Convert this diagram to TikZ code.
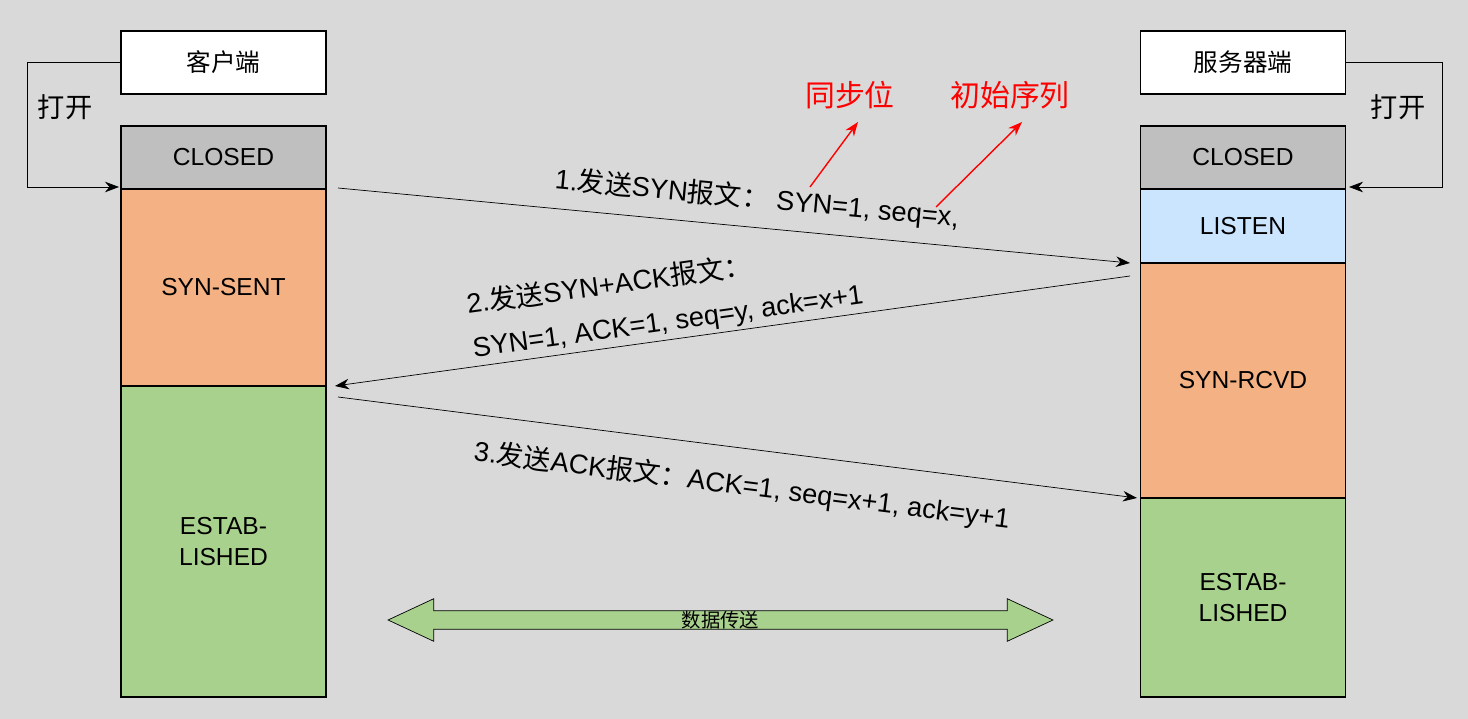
\documentclass[tikz,border=0pt]{standalone}
\usepackage{fontspec}
\setmainfont{Liberation Sans}
\newfontfamily\cjk{Noto Sans CJK SC}
\usetikzlibrary{shapes.arrows,arrows.meta}
\definecolor{bggray}{HTML}{D9D9D9}
\definecolor{closedgray}{HTML}{BFBFBF}
\definecolor{synorange}{HTML}{F4B183}
\definecolor{estgreen}{HTML}{A9D18E}
\definecolor{listenblue}{HTML}{CCE5FF}
\tikzset{state/.style={draw, thick, minimum width=4.1cm, align=center, font=\fontsize{14}{18}\selectfont},
  msg/.style={-{Stealth[length=8pt]}, thin},
  lbl/.style={font=\fontsize{15.5}{19}\selectfont, align=left}}
\begin{document}
\begin{tikzpicture}[x=0.02cm,y=-0.02cm]
    \fill[bggray] (0,0) rectangle (1468,719);
    \useasboundingbox (0,0) rectangle (1468,719);
    % client side
    \node[state, fill=white, minimum height=1.26cm] (cl) at (223.5,62.5) {\cjk 客户端};
    \node[state, fill=closedgray, minimum height=1.26cm] (cclosed) at (223.5,157.5) {CLOSED};
    \node[state, fill=synorange, minimum height=3.94cm] (csent) at (223.5,287.5) {SYN-SENT};
    \node[state, fill=estgreen, minimum height=6.22cm] (cest) at (223.5,541.5) {ESTAB-\\LISHED};
    % server side
    \node[state, fill=white, minimum height=1.26cm] (sv) at (1243,62.5) {\cjk 服务器端};
    \node[state, fill=closedgray, minimum height=1.26cm] (sclosed) at (1243,157.5) {CLOSED};
    \node[state, fill=listenblue, minimum height=1.48cm] (slisten) at (1243,226) {LISTEN};
    \node[state, fill=synorange, minimum height=4.7cm] (srcvd) at (1243,380.5) {SYN-RCVD};
    \node[state, fill=estgreen, minimum height=3.98cm] (sest) at (1243,597.5) {ESTAB-\\LISHED};
    % open
    \draw[msg] (cl.west) -- (27,62.5) -- (27,187) -- (119,187);
    \draw[msg] (sv.east) -- (1442,62.5) -- (1442,187) -- (1349,187);
    \node[lbl] (copen) at (65,107) {\cjk 打开};
    \node[lbl] (sopen) at (1398,107) {\cjk 打开};
    % handshake
    \coordinate (a1) at (338,188); \coordinate (b1) at (1130,263);
    \coordinate (a2) at (1130,276); \coordinate (b2) at (335,386);
    \coordinate (a3) at (338,397); \coordinate (b3) at (1137,498);
    \draw[msg] (a1) -- (b1);
    \draw[msg] (a2) -- (b2);
    \draw[msg] (a3) -- (b3);
    \node[lbl, rotate=-5.4] (m1) at (757,199) {1.{\cjk 发送}SYN{\cjk 报文：} SYN=1, seq=x,};
    \node[lbl, rotate=7.9, font=\fontsize{15.5}{25}\selectfont] (m2) at (665,300) {2.{\cjk 发送}SYN+ACK{\cjk 报文：}\\SYN=1, ACK=1, seq=y, ack=x+1};
    \node[lbl, rotate=-7.2] (m3) at (742,486) {3.{\cjk 发送}ACK{\cjk 报文：}ACK=1, seq=x+1, ack=y+1};
    % notes
    \node[lbl, text=red, font=\fontsize{17}{20}\selectfont] (syn) at (850,95) {\cjk 同步位};
    \node[lbl, text=red, font=\fontsize{17}{20}\selectfont] (isn) at (1010,95) {\cjk 初始序列};
    \coordinate (p1) at (810,187); \coordinate (p2) at (936,207);
    \draw[msg, red, thick] (p1) -- (858,122);
    \draw[msg, red, thick] (p2) -- (1022,122);
    % data
    \node[double arrow, draw, fill=estgreen, minimum width=0.48cm, double arrow head extend=0.24cm,
      minimum height=13.3cm, inner sep=0pt, double arrow tip angle=50, font=\cjk\fontsize{11}{12}\selectfont] (data) at (720.5,620) {数据传送};
\end{tikzpicture}
\end{document}
